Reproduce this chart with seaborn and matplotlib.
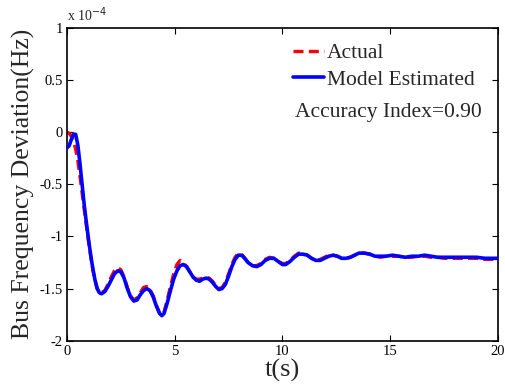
import matplotlib
matplotlib.use("Agg")
import matplotlib.pyplot as plt
import seaborn as sns
import pandas as pd
from matplotlib.lines import Line2D

# time (s)
t = [0.0, 0.1, 0.2, 0.3, 0.4, 0.5, 0.6, 0.7, 0.8, 0.9, 1.0, 1.1, 1.2, 1.3, 1.4, 1.5, 1.6,
     1.75, 1.9, 2.05, 2.2, 2.35, 2.5, 2.65, 2.8, 2.95, 3.1, 3.25, 3.4, 3.55, 3.7, 3.85,
     4.0, 4.15, 4.3, 4.4, 4.5, 4.65, 4.8, 4.95, 5.1, 5.25, 5.4, 5.55, 5.7, 5.85, 6.0,
     6.15, 6.3, 6.45, 6.6, 6.75, 6.9, 7.05, 7.2, 7.35, 7.5, 7.65, 7.8, 7.95, 8.1, 8.25,
     8.4, 8.6, 8.8, 9.0, 9.2, 9.4, 9.6, 9.8, 10.0, 10.15, 10.35, 10.55, 10.75, 10.95,
     11.15, 11.35, 11.55, 11.75, 11.95, 12.15, 12.35, 12.55, 12.75, 12.95, 13.15, 13.35,
     13.55, 13.8, 14.05, 14.3, 14.55, 14.8, 15.1, 15.4, 15.7, 16.0, 16.3, 16.6, 16.9,
     17.2, 17.5, 17.8, 18.2, 18.6, 19.0, 19.4, 19.8, 20.0]

# Model Estimated (x 1e-4 Hz)
estimated = [-0.15, -0.13, -0.07, -0.02, -0.02, -0.12, -0.30, -0.50, -0.70, -0.87, -1.03,
             -1.18, -1.31, -1.42, -1.50, -1.54, -1.55, -1.53, -1.48, -1.42, -1.36, -1.33,
             -1.34, -1.40, -1.50, -1.58, -1.62, -1.61, -1.56, -1.52, -1.50, -1.52, -1.58,
             -1.67, -1.74, -1.76, -1.74, -1.64, -1.52, -1.41, -1.33, -1.28, -1.27, -1.29,
             -1.34, -1.39, -1.42, -1.43, -1.41, -1.40, -1.41, -1.44, -1.48, -1.51, -1.50,
             -1.46, -1.38, -1.29, -1.22, -1.18, -1.18, -1.21, -1.25, -1.28, -1.29, -1.27,
             -1.23, -1.21, -1.21, -1.24, -1.27, -1.27, -1.24, -1.20, -1.17, -1.17, -1.18,
             -1.21, -1.23, -1.23, -1.21, -1.19, -1.18, -1.19, -1.21, -1.21, -1.20, -1.18,
             -1.16, -1.16, -1.17, -1.19, -1.19, -1.19, -1.18, -1.19, -1.20, -1.19, -1.19,
             -1.18, -1.19, -1.20, -1.20, -1.20, -1.20, -1.20, -1.20, -1.21, -1.21, -1.21]

# Actual (x 1e-4 Hz)
actual = [0.00, -0.01, -0.04, -0.09, -0.16, -0.27, -0.42, -0.58, -0.74, -0.90, -1.05,
          -1.19, -1.32, -1.42, -1.50, -1.54, -1.54, -1.52, -1.46, -1.39, -1.33, -1.30,
          -1.32, -1.39, -1.49, -1.57, -1.61, -1.59, -1.54, -1.49, -1.48, -1.51, -1.57,
          -1.66, -1.74, -1.76, -1.73, -1.61, -1.48, -1.36, -1.27, -1.23, -1.25, -1.29,
          -1.34, -1.39, -1.41, -1.41, -1.40, -1.39, -1.40, -1.43, -1.47, -1.50, -1.49,
          -1.44, -1.36, -1.27, -1.20, -1.16, -1.17, -1.21, -1.25, -1.28, -1.28, -1.26,
          -1.22, -1.20, -1.21, -1.24, -1.26, -1.26, -1.23, -1.19, -1.16, -1.16, -1.18,
          -1.21, -1.23, -1.22, -1.20, -1.18, -1.18, -1.19, -1.21, -1.21, -1.20, -1.18,
          -1.16, -1.16, -1.17, -1.19, -1.20, -1.19, -1.19, -1.19, -1.20, -1.20, -1.19,
          -1.19, -1.20, -1.20, -1.21, -1.21, -1.21, -1.21, -1.21, -1.22, -1.22, -1.22]

x_ticks = [0, 5, 10, 15, 20]
y_ticks = [-2, -1.5, -1, -0.5, 0, 0.5, 1]
y_tick_labels = ["-2", "-1.5", "-1", "-0.5", "0", "0.5", "1"]

sns.set_style("white")
plt.rcParams["font.family"] = ["Liberation Serif", "DejaVu Serif"]
plt.rcParams["axes.unicode_minus"] = False

df = pd.DataFrame({"t": t, "Actual": actual, "Model Estimated": estimated})

fig = plt.figure(figsize=(5.05, 3.92), dpi=100)
ax = fig.add_axes([0.1327, 0.131, 0.8533, 0.7976])

sns.lineplot(data=df, x="t", y="Actual", ax=ax, color="#ff0000", linewidth=2.4,
             linestyle=(0, (3, 1.6)), zorder=2)
sns.lineplot(data=df, x="t", y="Model Estimated", ax=ax, color="#0000ff", linewidth=2.6,
             zorder=3)

ax.set_xlim(0, 20)
ax.set_ylim(-2, 1)
ax.set_xticks(x_ticks)
ax.set_xticklabels([str(v) for v in x_ticks])
ax.set_yticks(y_ticks)
ax.set_yticklabels(y_tick_labels)
ax.tick_params(direction="in", length=4, width=0.8, labelsize=10.5, colors="black",
               top=True, right=True, bottom=True, left=True, pad=3)
for s in ax.spines.values():
    s.set_color("black")
    s.set_linewidth(1.2)

ax.set_xlabel("t(s)", fontsize=19, labelpad=1)
ax.set_ylabel("Bus Frequency Deviation(Hz)", fontsize=18.5, labelpad=3)
ax.text(0.0, 1.012, "x 10$^{-4}$", transform=ax.transAxes, fontsize=10, ha="left", va="bottom")

handles = [Line2D([], [], color="#ff0000", linewidth=2.4, linestyle=(0, (3, 1.6))),
           Line2D([], [], color="#0000ff", linewidth=2.6)]
ax.legend(handles, ["Actual", "Model Estimated"], loc="upper left",
          bbox_to_anchor=(0.49, 1.0), frameon=False, fontsize=15.5,
          handlelength=1.45, handletextpad=0.1, labelspacing=0.3, borderaxespad=0.3)
ax.text(0.529, 0.731, "Accuracy Index=0.90", transform=ax.transAxes, fontsize=15.5,
        ha="left", va="center")

fig.savefig("out.png", dpi=100)
